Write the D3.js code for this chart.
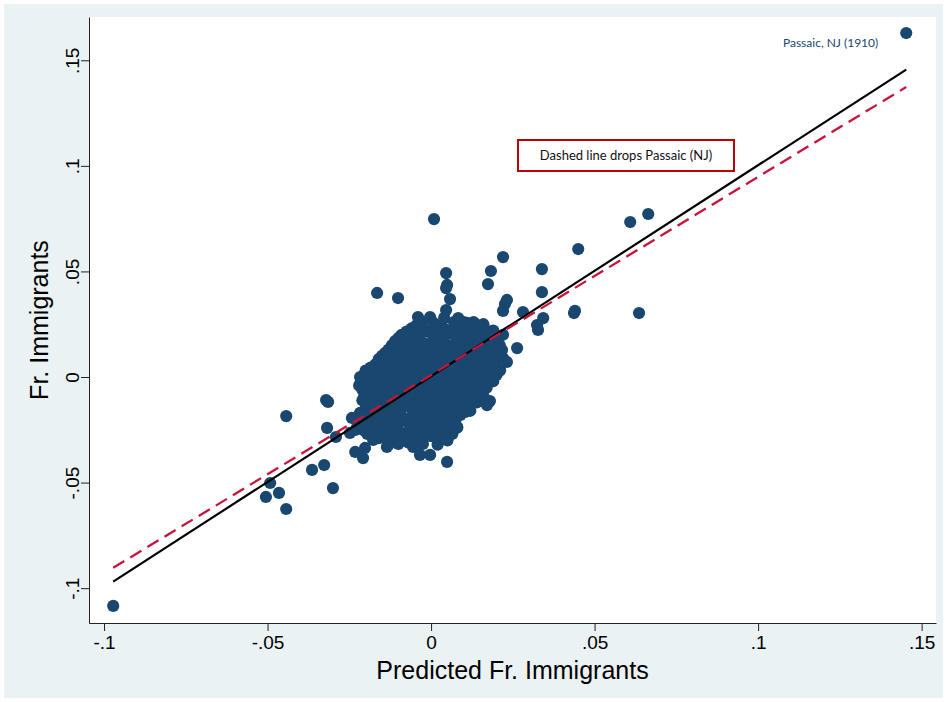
<!DOCTYPE html>
<html>
<head>
<meta charset="utf-8">
<script src="https://cdn.jsdelivr.net/npm/d3@7"></script>
<style>
  html, body { margin: 0; padding: 0; background: #ffffff; }
  svg { display: block; }
</style>
</head>
<body>
<svg id="chart" width="947" height="702"></svg>
<script>
// ---------------- DATA ----------------
const xTickValues = [-0.1, -0.05, 0, 0.05, 0.1, 0.15];
const xTickLabels = ["-.1", "-.05", "0", ".05", ".1", ".15"];
const yTickValues = [-0.1, -0.05, 0, 0.05, 0.1, 0.15];
const yTickLabels = ["-.1", "-.05", "0", ".05", ".1", ".15"];

const xTitle = "Predicted Fr. Immigrants";
const yTitle = "Fr. Immigrants";
const noteText = "Dashed line drops Passaic (NJ)";
const labelText = "Passaic, NJ (1910)";

// [predicted, actual] - dense core of cities
const coreCities = [
[-0.003,0.026],[0.004,0.028],[0.010,0.026],[0.016,0.025],
[-0.006,0.023],[0.001,0.024],[0.007,0.022],[0.013,0.024],[0.019,0.022],
[-0.009,0.020],[-0.003,0.021],[0.004,0.019],[0.010,0.020],[0.017,0.019],[0.022,0.020],
[-0.011,0.017],[-0.005,0.016],[0.001,0.017],[0.006,0.015],[0.012,0.017],[0.018,0.016],[0.021,0.015],
[-0.013,0.013],[-0.008,0.014],[-0.002,0.012],[0.003,0.014],[0.009,0.012],[0.015,0.013],[0.020,0.012],
[-0.015,0.010],[-0.010,0.009],[-0.004,0.010],[0.001,0.008],[0.006,0.010],[0.012,0.009],[0.017,0.010],[0.022,0.009],
[-0.017,0.006],[-0.012,0.007],[-0.007,0.005],[-0.001,0.007],[0.004,0.006],[0.009,0.005],[0.014,0.007],[0.019,0.006],
[-0.020,0.003],[-0.014,0.002],[-0.009,0.003],[-0.003,0.002],[0.002,0.003],[0.007,0.002],[0.012,0.003],[0.017,0.002],[0.021,0.003],
[-0.021,-0.001],[-0.016,0.000],[-0.011,-0.001],[-0.005,0.000],[0.000,-0.001],[0.005,0.000],[0.010,-0.001],[0.015,0.000],[0.019,-0.002],
[-0.022,-0.004],[-0.017,-0.005],[-0.012,-0.004],[-0.007,-0.003],[-0.002,-0.005],[0.003,-0.004],[0.008,-0.005],[0.013,-0.004],[0.017,-0.005],
[-0.020,-0.008],[-0.015,-0.007],[-0.010,-0.008],[-0.004,-0.007],[0.001,-0.008],[0.006,-0.007],[0.011,-0.008],[0.016,-0.009],
[-0.021,-0.011],[-0.016,-0.012],[-0.011,-0.011],[-0.006,-0.012],[-0.001,-0.011],[0.004,-0.012],[0.009,-0.011],[0.014,-0.012],
[-0.019,-0.015],[-0.014,-0.014],[-0.009,-0.015],[-0.003,-0.014],[0.002,-0.015],[0.007,-0.014],[0.012,-0.016],
[-0.022,-0.018],[-0.017,-0.019],[-0.012,-0.018],[-0.006,-0.019],[-0.001,-0.018],[0.004,-0.019],[0.009,-0.018],
[-0.020,-0.022],[-0.015,-0.021],[-0.010,-0.022],[-0.004,-0.021],[0.001,-0.022],[0.006,-0.021],
[-0.023,-0.025],[-0.018,-0.026],[-0.013,-0.025],[-0.007,-0.026],[-0.002,-0.025],[0.003,-0.026],[0.008,-0.024],
[-0.016,-0.029],[-0.010,-0.028],[-0.005,-0.029],[0.000,-0.028],[0.005,-0.030],
[-0.013,-0.032],[-0.007,-0.031],[0.002,-0.032]
];

// [predicted, actual] - more cities inside the core
const coreFillCities = [
[-0.0045,0.0245],[0.0025,0.0245],[0.0085,0.0245],[0.0145,0.0245],
[-0.0075,0.0215],[-0.001,0.0215],[0.0055,0.0215],[0.0115,0.0215],[0.018,0.0215],
[-0.010,0.0185],[-0.004,0.0185],[0.0025,0.0185],[0.008,0.0185],[0.0145,0.0185],[0.0195,0.0185],
[-0.012,0.015],[-0.0065,0.015],[-0.0005,0.015],[0.0045,0.015],[0.0105,0.015],[0.0165,0.015],
[-0.014,0.0115],[-0.009,0.0115],[-0.003,0.0115],[0.002,0.0115],[0.0075,0.0115],[0.0135,0.0115],[0.0185,0.0115],
[-0.016,0.0085],[-0.011,0.0085],[-0.0055,0.0085],[0.000,0.0085],[0.005,0.0085],[0.0105,0.0085],[0.0155,0.0085],[0.0205,0.0085],
[-0.0185,0.0045],[-0.013,0.0045],[-0.008,0.0045],[-0.002,0.0045],[0.003,0.0045],[0.008,0.0045],[0.013,0.0045],[0.018,0.0045],
[-0.0205,0.001],[-0.015,0.001],[-0.010,0.001],[-0.004,0.001],[0.001,0.001],[0.006,0.001],[0.011,0.001],[0.016,0.001],[0.020,0.001],
[-0.0215,-0.0025],[-0.0165,-0.0025],[-0.0115,-0.0025],[-0.006,-0.0025],[-0.001,-0.0025],[0.004,-0.0025],[0.009,-0.0025],[0.014,-0.0025],[0.018,-0.0025],
[-0.021,-0.006],[-0.016,-0.006],[-0.011,-0.006],[-0.0055,-0.006],[-0.0005,-0.006],[0.0045,-0.006],[0.0095,-0.006],[0.0145,-0.006],
[-0.0205,-0.0095],[-0.0155,-0.0095],[-0.0105,-0.0095],[-0.005,-0.0095],[0.000,-0.0095],[0.005,-0.0095],[0.010,-0.0095],[0.015,-0.0095],
[-0.020,-0.013],[-0.015,-0.013],[-0.010,-0.013],[-0.0045,-0.013],[0.0005,-0.013],[0.0055,-0.013],[0.0105,-0.013],
[-0.0205,-0.0165],[-0.0155,-0.0165],[-0.0105,-0.0165],[-0.0045,-0.0165],[0.0005,-0.0165],[0.0055,-0.0165],[0.0105,-0.0165],
[-0.021,-0.020],[-0.016,-0.020],[-0.011,-0.020],[-0.005,-0.020],[0.000,-0.020],[0.005,-0.020],[0.0075,-0.020],
[-0.0215,-0.0235],[-0.0165,-0.0235],[-0.0115,-0.0235],[-0.0055,-0.0235],[-0.0005,-0.0235],[0.0045,-0.0235],
[-0.0195,-0.027],[-0.0135,-0.027],[-0.0075,-0.027],[-0.0025,-0.027],[0.0025,-0.027],[0.0065,-0.027],
[-0.0115,-0.030],[-0.003,-0.030]
];

// [predicted, actual] - further cities packed into the core
const coreDenseCities = [
[0.0005,0.026],[0.007,0.026],[0.013,0.026],
[-0.0025,0.023],[0.004,0.023],[0.010,0.023],[0.016,0.023],
[-0.006,0.020],[0.0005,0.020],[0.007,0.020],[0.0135,0.020],[0.0195,0.020],
[-0.008,0.016],[-0.002,0.016],[0.0035,0.016],[0.009,0.016],[0.015,0.016],
[-0.0105,0.013],[-0.005,0.013],[0.0005,0.013],[0.006,0.013],[0.012,0.013],[0.0175,0.013],
[-0.0125,0.0095],[-0.007,0.0095],[-0.0015,0.0095],[0.0035,0.0095],[0.009,0.0095],[0.0145,0.0095],[0.0195,0.0095],
[-0.0145,0.006],[-0.0095,0.006],[-0.004,0.006],[0.0015,0.006],[0.0065,0.006],[0.0115,0.006],[0.0165,0.006],
[-0.017,0.0025],[-0.0115,0.0025],[-0.006,0.0025],[-0.0005,0.0025],[0.0045,0.0025],[0.0095,0.0025],[0.0145,0.0025],[0.019,0.0025],
[-0.0185,-0.0005],[-0.0135,-0.0005],[-0.008,-0.0005],[-0.0025,-0.0005],[0.0025,-0.0005],[0.0075,-0.0005],[0.0125,-0.0005],[0.017,-0.0005],
[-0.0195,-0.0043],[-0.0145,-0.0043],[-0.0095,-0.0043],[-0.0045,-0.0043],[0.0005,-0.0043],[0.0055,-0.0043],[0.0105,-0.0043],[0.015,-0.0043],
[-0.0175,-0.0078],[-0.0125,-0.0078],[-0.007,-0.0078],[-0.0015,-0.0078],[0.0035,-0.0078],[0.0085,-0.0078],[0.0135,-0.0078],
[-0.0185,-0.0115],[-0.0135,-0.0115],[-0.0085,-0.0115],[-0.0035,-0.0115],[0.0015,-0.0115],[0.0065,-0.0115],[0.0115,-0.0115],
[-0.0165,-0.0147],[-0.0115,-0.0147],[-0.006,-0.0147],[-0.0005,-0.0147],[0.0045,-0.0147],[0.0095,-0.0147],
[-0.0195,-0.0185],[-0.0145,-0.0185],[-0.009,-0.0185],[-0.0035,-0.0185],[0.0015,-0.0185],[0.0065,-0.0185],
[-0.0175,-0.0215],[-0.0125,-0.0215],[-0.007,-0.0215],[-0.0015,-0.0215],[0.0035,-0.0215],
[-0.0205,-0.0253],[-0.0155,-0.0253],[-0.010,-0.0253],[-0.0045,-0.0253],[0.0005,-0.0253],[0.0055,-0.0253],
[-0.013,-0.0287],[-0.0075,-0.0287],[-0.0025,-0.0287],[0.0025,-0.0287],
[-0.010,-0.0317],[-0.0025,-0.0317]
];

// [predicted, actual] - outlying cities
const outerCities = [
[-0.0972,-0.1084],[0.1453,0.1629],[0.0664,0.0772],[0.0609,0.0734],[0.0450,0.0606],
[0.0437,0.0303],[0.0440,0.0313],[0.0636,0.0303],[0.0339,0.0511],[0.0339,0.0402],
[0.0343,0.0279],[0.0324,0.0246],[0.0281,0.0308],[0.0263,0.0137],[0.0220,0.0568],
[0.0183,0.0502],[0.0174,0.0440],[0.0232,0.0365],[0.0226,0.0346],[0.0220,0.0313],
[0.0190,0.0213],[0.0150,0.0237],[0.0110,0.0256],[0.0083,0.0279],[0.0009,0.0748],
[0.0046,0.0492],[0.0049,0.0436],[0.0046,0.0421],[0.0058,0.0369],[0.0046,0.0317],
[-0.0165,0.0398],[-0.0101,0.0374],[-0.0040,0.0284],[-0.0003,0.0284],[-0.0031,0.0208],
[0.0018,0.0237],[-0.0443,-0.0185],[-0.0321,-0.0109],[-0.0315,-0.0118],[-0.0318,-0.0241],
[-0.0364,-0.0440],[-0.0327,-0.0417],[-0.0300,-0.0526],[-0.0291,-0.0284],[-0.0242,-0.0194],
[-0.0248,-0.0265],[-0.0232,-0.0355],[-0.0217,0.0000],[-0.0492,-0.0502],[-0.0505,-0.0568],
[-0.0465,-0.0549],[-0.0443,-0.0625],[-0.0208,-0.0005],[-0.0171,0.0000],[-0.0202,-0.0109],
[-0.0217,-0.0170],[-0.0226,-0.0237],[-0.0177,-0.0298],[-0.0135,-0.0331],[-0.0202,-0.0336],
[-0.0208,-0.0384],[-0.0055,-0.0331],[-0.0034,-0.0369],[-0.0003,-0.0369],[0.0049,-0.0284],
[0.0049,-0.0402],[-0.0135,0.0090],[-0.0095,0.0114],[0.0211,0.0033],[0.0232,0.0071],
[0.0217,0.0128],[0.0180,0.0128],[0.0150,0.0047],[0.0141,-0.0014],[0.0150,-0.0076],
[0.0171,-0.0133],[0.0080,-0.0237],[0.0037,-0.0218],[0.0327,0.0223],[0.0180,-0.0114]
];

// labelled city [predicted, actual]
const labelledCity = [0.1453, 0.1629];

// linear fits: [intercept, slope]
const fitAll = [0.0003, 1.0];
const fitNoPassaic = [0.0009, 0.939];

// ---------------- LAYOUT ----------------
const svg = d3.select("#chart");
const W = 947, H = 702;
const plot = { left: 89, right: 936, top: 17, bottom: 623 };

const x = d3.scaleLinear().domain([-0.1046, 0.1544]).range([plot.left, plot.right]);
const y = d3.scaleLinear().domain([-0.1165, 0.1705]).range([plot.bottom, plot.top]);

const navy = "#1a476f";
const red = "#c8143c";

// graph region background
svg.append("rect").attr("x", 4).attr("y", 4).attr("width", W - 8).attr("height", H - 8)
  .attr("fill", "#eaf2f3");
// plot region
svg.append("rect").attr("x", plot.left).attr("y", plot.top)
  .attr("width", plot.right - plot.left).attr("height", plot.bottom - plot.top)
  .attr("fill", "#ffffff");

// points
const allCities = coreCities.concat(coreFillCities, coreDenseCities, outerCities);
svg.append("g").selectAll("circle").data(allCities).join("circle")
  .attr("cx", d => x(d[0])).attr("cy", d => y(d[1])).attr("r", 6.1)
  .attr("fill", navy);

// fit lines
const xExt = d3.extent(allCities, d => d[0]);
const line = d3.line().x(d => x(d[0])).y(d => y(d[1]));
function fitPts(f) { return xExt.map(v => [v, f[0] + f[1] * v]); }

svg.append("path").attr("d", line(fitPts(fitAll)))
  .attr("stroke", "#000").attr("stroke-width", 2.2).attr("fill", "none");
svg.append("path").attr("d", line(fitPts(fitNoPassaic)))
  .attr("stroke", red).attr("stroke-width", 2.3).attr("fill", "none")
  .attr("stroke-dasharray", "13,7");

// axes
const axisFont = "'Liberation Sans', Arial, sans-serif";
const xAxis = d3.axisBottom(x).tickValues(xTickValues)
  .tickFormat((d, i) => xTickLabels[i]).tickSize(8).tickSizeOuter(0).tickPadding(5);
const gx = svg.append("g").attr("transform", `translate(0,${plot.bottom})`).call(xAxis);
gx.selectAll("text").attr("font-family", axisFont).attr("font-size", 19).attr("fill", "#000");
gx.selectAll("line, path").attr("stroke", "#222");

const yAxis = d3.axisLeft(y).tickValues(yTickValues)
  .tickFormat((d, i) => yTickLabels[i]).tickSize(8).tickSizeOuter(0);
const gy = svg.append("g").attr("transform", `translate(${plot.left},0)`).call(yAxis);
gy.selectAll("text")
  .attr("x", null).attr("dy", null)
  .attr("text-anchor", "middle")
  .attr("transform", "translate(-10,0) rotate(-90)")
  .attr("font-family", axisFont).attr("font-size", 19).attr("fill", "#000");
gy.selectAll("line, path").attr("stroke", "#222");

// axis titles
svg.append("text").attr("x", (plot.left + plot.right) / 2).attr("y", 679)
  .attr("text-anchor", "middle").attr("font-family", axisFont).attr("font-size", 25)
  .attr("fill", "#000").text(xTitle);
svg.append("text").attr("transform", `translate(48,${(plot.top + plot.bottom) / 2}) rotate(-90)`)
  .attr("text-anchor", "middle").attr("font-family", axisFont).attr("font-size", 25)
  .attr("fill", "#000").text(yTitle);

// point label
svg.append("text").attr("x", x(labelledCity[0]) - 28).attr("y", y(labelledCity[1]) + 14)
  .attr("text-anchor", "end").attr("font-family", "Lato, 'Open Sans', sans-serif")
  .attr("font-size", 12).attr("fill", navy).text(labelText);

// note box
const note = svg.append("g");
note.append("rect").attr("x", 518).attr("y", 140).attr("width", 216).attr("height", 31)
  .attr("fill", "#fff").attr("stroke", "#c00000").attr("stroke-width", 2);
note.append("text").attr("x", 626).attr("y", 160).attr("text-anchor", "middle")
  .attr("font-family", "Lato, 'Open Sans', sans-serif").attr("font-size", 13)
  .attr("fill", "#111").text(noteText);
</script>
</body>
</html>
